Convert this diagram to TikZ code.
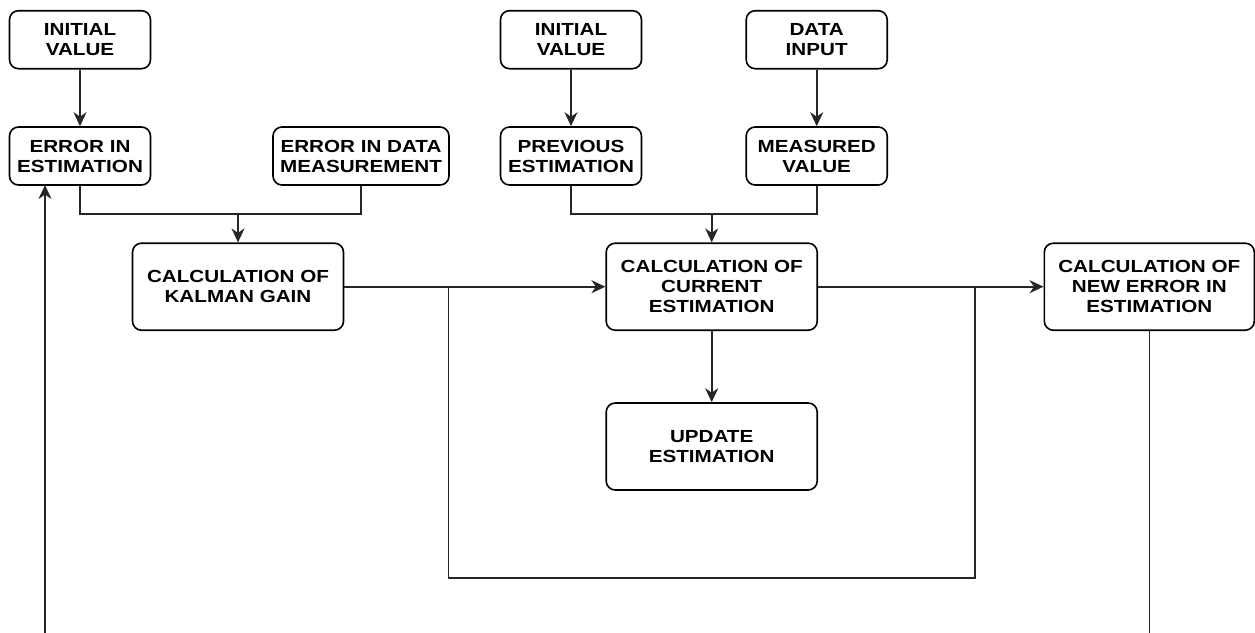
\documentclass[tikz,border=0pt]{standalone}
\usepackage{fontspec}
\setmainfont{Liberation Sans}[FakeStretch=1.18]
\usetikzlibrary{arrows.meta,calc}
\begin{document}
\begin{tikzpicture}[x=1pt,y=-1pt,
  box/.style={draw=black,line width=1.6pt,rounded corners=9pt,align=center,
    inner sep=0pt,font=\fontsize{17.5}{20}\selectfont\bfseries},
  small/.style={box,minimum width=141pt,minimum height=58pt},
  big/.style={box,minimum width=211pt,minimum height=87pt},
  conn/.style={line width=1.6pt,black!85},
  arr/.style={conn,-{Stealth[length=14pt,width=13pt,inset=4.5pt]}}]
\useasboundingbox (0,0) rectangle (1255,632);
\clip (0,0) rectangle (1255,632);
% nodes
\node[small] (iv1) at (80,39.7) {INITIAL\\VALUE};
\node[small] (eie) at (80,156) {ERROR IN\\ESTIMATION};
\node[small,minimum width=176pt] (edm) at (361,156) {ERROR IN DATA\\MEASUREMENT};
\node[big] (kg) at (238,286.7) {CALCULATION OF\\KALMAN GAIN};
\node[small] (iv2) at (571,39.7) {INITIAL\\VALUE};
\node[small] (di) at (816.7,39.7) {DATA\\INPUT};
\node[small] (pe) at (571,156) {PREVIOUS\\ESTIMATION};
\node[small] (mv) at (816.7,156) {MEASURED\\VALUE};
\node[big] (ce) at (711.7,286.7) {CALCULATION OF\\CURRENT\\ESTIMATION};
\node[big] (ue) at (711.7,446.5) {UPDATE\\ESTIMATION};
\node[big,minimum width=210pt] (ne) at (1149.3,286.7) {CALCULATION OF\\NEW ERROR IN\\ESTIMATION};
% junction coordinates
\coordinate (j1) at (238,214);
\coordinate (j2) at (711.7,214);
\coordinate (b1) at (448.3,286.7);
\coordinate (b2) at (975,286.7);
\coordinate (bot) at (0,577.7);
\coordinate (fbbot) at (0,660);
\coordinate (fbtop) at (45,185);
% connectors
\draw[arr] (iv1) -- (eie);
\draw[conn] (eie.south) |- (j1) -| (edm.south);
\draw[arr] (j1) -- (kg.north);
\draw[arr] (iv2) -- (pe);
\draw[arr] (di) -- (mv);
\draw[conn] (pe.south) |- (j2) -| (mv.south);
\draw[arr] (j2) -- (ce.north);
\draw[arr] (kg.east) -- (ce.west);
\draw[conn] (b1) -- (b1 |- bot) -| (b2);
\draw[arr] (ce.east) -- (ne.west);
\draw[arr] (ce.south) -- (ue.north);
\draw[arr] (ne.south) -- (ne.south |- fbbot) -| (fbtop);
\end{tikzpicture}
\end{document}
